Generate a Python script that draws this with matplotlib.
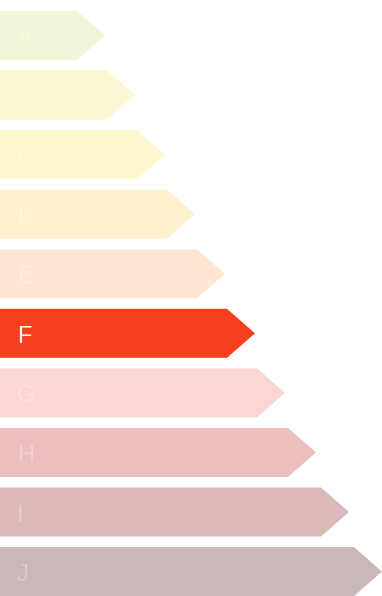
import matplotlib
matplotlib.use("Agg")
import matplotlib.pyplot as plt
from matplotlib.patches import Polygon

# energy classes, arrow lengths (px scale) and colours
labels = ["A", "B", "C", "D", "E", "F", "G", "H", "I", "J"]
lengths = [105, 135, 165, 195, 225, 255, 285, 316, 349, 382]
colors = ["#F0F6D8", "#FAF8D2", "#FFF8CE", "#FFF1CD", "#FEE6D2",
          "#F8401F", "#FCD5D5", "#ECBEBE", "#DCB9B9", "#CAB7B7"]
selected = "F"

TIP = 28          # depth of arrow point
BAR_H = 0.823     # bar height in row units

fig = plt.figure(figsize=(3.82, 5.96), dpi=100)
ax = fig.add_axes([0, 0, 1, 1])

for i, (lab, length, col) in enumerate(zip(labels, lengths, colors)):
    top = i - BAR_H / 2
    bot = i + BAR_H / 2
    pts = [(0, top), (length - TIP, top), (length, i), (length - TIP, bot), (0, bot)]
    ax.add_patch(Polygon(pts, closed=True, facecolor=col, edgecolor="none"))
    alpha = 1.0 if lab == selected else 0.3
    ax.text(17, i + 0.06, lab, ha="left", va="center", color="white", alpha=alpha,
            fontsize=17, family=["Liberation Sans", "DejaVu Sans"])

ax.set_xlim(0, 382)
ax.set_ylim(9.41, -0.596)
ax.axis("off")

fig.savefig("out.png", dpi=100)
